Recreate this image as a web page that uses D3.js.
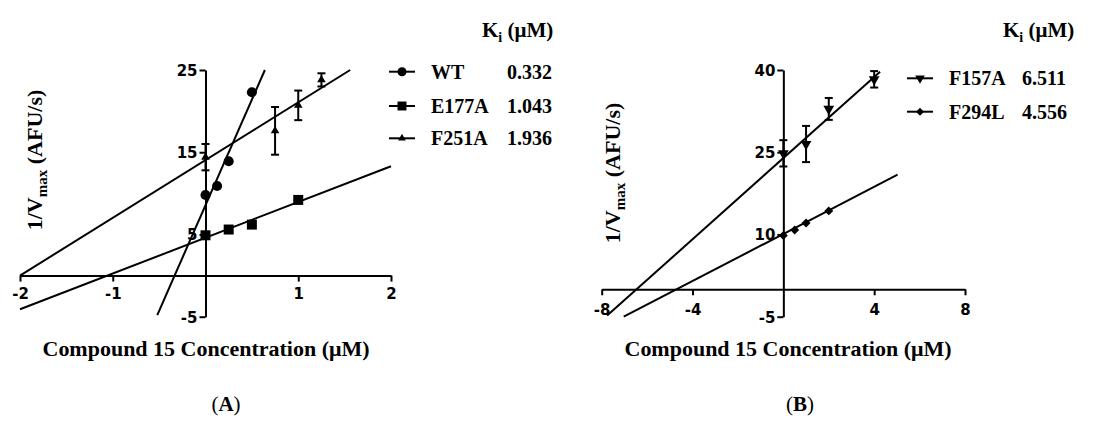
<!DOCTYPE html>
<html>
<head>
<meta charset="utf-8">
<script src="https://cdn.jsdelivr.net/npm/d3@7"></script>
<style>
  body { margin: 0; background: #fff; }
  text { fill: #000; }
  .tick text { font-family: "DejaVu Sans", "Liberation Sans", sans-serif; font-weight: bold; font-size: 15px; }
</style>
</head>
<body>
<svg id="chart" width="1094" height="421"></svg>
<script>
// ---- data ----
var ticksXA = [-2, -1, 1, 2];
var ticksYA = [-5, 5, 15, 25];
var ticksXB = [-8, -4, 4, 8];
var ticksYB = [-5, 10, 25, 40];

var namesA = ["WT", "E177A", "F251A"];
var kiA = ["0.332", "1.043", "1.936"];
var namesB = ["F157A", "F294L"];
var kiB = ["6.511", "4.556"];

var wtX = [0, 0.125, 0.25, 0.5];
var wtY = [9.8, 10.9, 13.9, 22.3];
var e177aX = [0, 0.25, 0.5, 1];
var e177aY = [4.9, 5.6, 6.2, 9.2];
var f251aX = [0, 0.75, 1, 1.25];
var f251aY = [14.4, 17.6, 20.7, 23.8];
var f251aErr = [1.6, 2.9, 1.8, 0.8];

var f157aX = [0, 1, 2, 4];
var f157aY = [24.8, 26.5, 32.9, 38.3];
var f157aErr = [2.4, 3.3, 2.0, 1.5];
var f294lX = [0, 0.5, 1, 2];
var f294lY = [9.8, 10.8, 12.1, 14.3];

// fitted lines, end points [x, y]
var wtFit = [[-0.52, -4.8], [0.64, 25]];
var e177aFit = [[-2, -4.1], [2, 13.3]];
var f251aFit = [[-2, 0], [1.56, 25]];
var f157aFit = [[-7.76, -4.8], [4.26, 39.7]];
var f294lFit = [[-7.03, -5], [5.03, 20.9]];

var svg = d3.select("#chart");
var serif = "'Liberation Serif', 'Times New Roman', serif";

function shape(kind) {
    if (kind == "circle") return { t: d3.symbolCircle, s: 80, r: 0 };
    if (kind == "square") return { t: d3.symbolSquare, s: 100, r: 0 };
    if (kind == "triangle") return { t: d3.symbolTriangle, s: 32, r: 0 };
    if (kind == "down") return { t: d3.symbolTriangle, s: 50, r: 180 };
    return { t: d3.symbolSquare, s: 40, r: 45 };
}

function panel(opt) {
    var x = d3.scaleLinear().domain(opt.xDom).range(opt.xRange);
    var y = d3.scaleLinear().domain(opt.yDom).range(opt.yRange);
    var g = svg.append("g");
    var fmt = function (d) { return String(d) };

    // x axis through y = 0
    var gx = g.append("g")
        .attr("transform", "translate(0," + y(0) + ")")
        .call(d3.axisBottom(x).tickValues(opt.xTicks).tickFormat(fmt)
            .tickSize(6).tickSizeOuter(0).tickPadding(5));
    // y axis through x = 0
    var gy = g.append("g")
        .attr("transform", "translate(" + x(0) + ",0)")
        .call(d3.axisLeft(y).tickValues(opt.yTicks).tickFormat(fmt)
            .tickSize(6).tickSizeOuter(0).tickPadding(2));
    [gx, gy].forEach(function (a) {
        a.attr("font-family", null).attr("font-size", null);
        a.select(".domain").attr("stroke", "#000").attr("stroke-width", 2);
        a.selectAll(".tick line").attr("stroke", "#000").attr("stroke-width", 2);
        a.selectAll(".tick text").attr("fill", "#000");
    });
    gx.selectAll(".tick text").attr("dy", opt.xLabDy);
    gy.selectAll(".tick text").attr("dy", "0.36em");

    var line = d3.line().x(function (d) { return x(d[0]) }).y(function (d) { return y(d[1]) });

    opt.series.forEach(function (s) {
        g.append("path")
            .attr("d", line(s.fit))
            .attr("fill", "none").attr("stroke", "#000").attr("stroke-width", 2);

        if (s.err) {
            s.x.forEach(function (xv, i) {
                var lo = y(s.y[i] - s.err[i]), hi = y(s.y[i] + s.err[i]), cx = x(xv);
                g.append("line").attr("x1", cx).attr("x2", cx).attr("y1", lo).attr("y2", hi)
                    .attr("stroke", "#000").attr("stroke-width", 2);
                [lo, hi].forEach(function (yy) {
                    g.append("line").attr("x1", cx - 4).attr("x2", cx + 4).attr("y1", yy).attr("y2", yy)
                        .attr("stroke", "#000").attr("stroke-width", 2);
                });
            });
        }

        var sh = shape(s.shape);
        g.append("g").selectAll("path.pt")
            .data(s.x)
            .enter()
            .append("path")
            .attr("class", "pt")
            .attr("d", d3.symbol().type(sh.t).size(sh.s))
            .attr("transform", function (d, i) {
                return "translate(" + x(d) + "," + y(s.y[i]) + ") rotate(" + sh.r + ")";
            })
            .attr("fill", "#000");
    });

    // y title
    var yt = g.append("text")
        .attr("transform", "translate(" + opt.yTitleX + "," + opt.yTitleY + ") rotate(-90)")
        .attr("text-anchor", "middle")
        .style("font-family", serif).style("font-weight", "bold").style("font-size", "22px");
    yt.append("tspan").text("1/V");
    yt.append("tspan").attr("dy", 5).style("font-size", "15px").text("max");
    yt.append("tspan").attr("dy", -5).text(" (AFU/s)");

    // x title
    g.append("text")
        .attr("x", opt.xTitleX).attr("y", 356)
        .attr("text-anchor", "middle")
        .attr("textLength", 327).attr("lengthAdjust", "spacingAndGlyphs")
        .style("font-family", serif).style("font-weight", "bold").style("font-size", "20px")
        .text("Compound 15 Concentration (\u03bcM)");

    // panel letter
    g.append("text")
        .attr("x", opt.letterX).attr("y", 411)
        .attr("text-anchor", "middle")
        .style("font-family", serif).style("font-size", "21px")
        .html("(<tspan font-weight='bold'>" + opt.letter + "</tspan>)");

    // legend
    var lg = g.append("g");
    var hd = lg.append("text")
        .attr("x", opt.legHeadX).attr("y", 37)
        .style("font-family", serif).style("font-weight", "bold").style("font-size", "21px");
    hd.append("tspan").text("K");
    hd.append("tspan").attr("dy", 5).style("font-size", "14px").text("i");
    hd.append("tspan").attr("dy", -5).text(" (\u03bcM)");

    opt.series.forEach(function (s, i) {
        var yy = opt.legY[i];
        lg.append("line")
            .attr("x1", opt.legX).attr("x2", opt.legX + 26).attr("y1", yy).attr("y2", yy)
            .attr("stroke", "#000").attr("stroke-width", 2);
        var sh = shape(s.shape);
        lg.append("path")
            .attr("d", d3.symbol().type(sh.t).size(sh.s * 0.8))
            .attr("transform", "translate(" + (opt.legX + 13) + "," + yy + ") rotate(" + sh.r + ")")
            .attr("fill", "#000");
        lg.append("text")
            .attr("x", opt.legX + 42).attr("y", yy + 7)
            .style("font-family", serif).style("font-weight", "bold").style("font-size", "20px")
            .text(s.name);
        lg.append("text")
            .attr("x", opt.legValX).attr("y", yy + 7)
            .style("font-family", serif).style("font-weight", "bold").style("font-size", "20px")
            .text(s.ki);
    });
}

panel({
    xDom: [-2, 2], xRange: [20, 391],
    yDom: [-5, 25], yRange: [316.7, 70],
    xTicks: ticksXA, yTicks: ticksYA, xLabDy: "0.85em",
    yTitleX: 42, yTitleY: 160, xTitleX: 206, letterX: 226, letter: "A",
    legX: 389, legY: [71.7, 106, 138.3], legValX: 507, legHeadX: 482,
    series: [
        { name: namesA[0], ki: kiA[0], x: wtX, y: wtY, fit: wtFit, shape: "circle" },
        { name: namesA[1], ki: kiA[1], x: e177aX, y: e177aY, fit: e177aFit, shape: "square" },
        { name: namesA[2], ki: kiA[2], x: f251aX, y: f251aY, err: f251aErr, fit: f251aFit, shape: "triangle" }
    ]
});

panel({
    xDom: [-8, 8], xRange: [601.7, 965],
    yDom: [-5, 40], yRange: [316.7, 70],
    xTicks: ticksXB, yTicks: ticksYB, xLabDy: "0.95em",
    yTitleX: 620, yTitleY: 173, xTitleX: 788, letterX: 800, letter: "B",
    legX: 907, legY: [78.3, 111.7], legValX: 1022, legHeadX: 1003,
    series: [
        { name: namesB[0], ki: kiB[0], x: f157aX, y: f157aY, err: f157aErr, fit: f157aFit, shape: "down" },
        { name: namesB[1], ki: kiB[1], x: f294lX, y: f294lY, fit: f294lFit, shape: "diamond" }
    ]
});
</script>
</body>
</html>
